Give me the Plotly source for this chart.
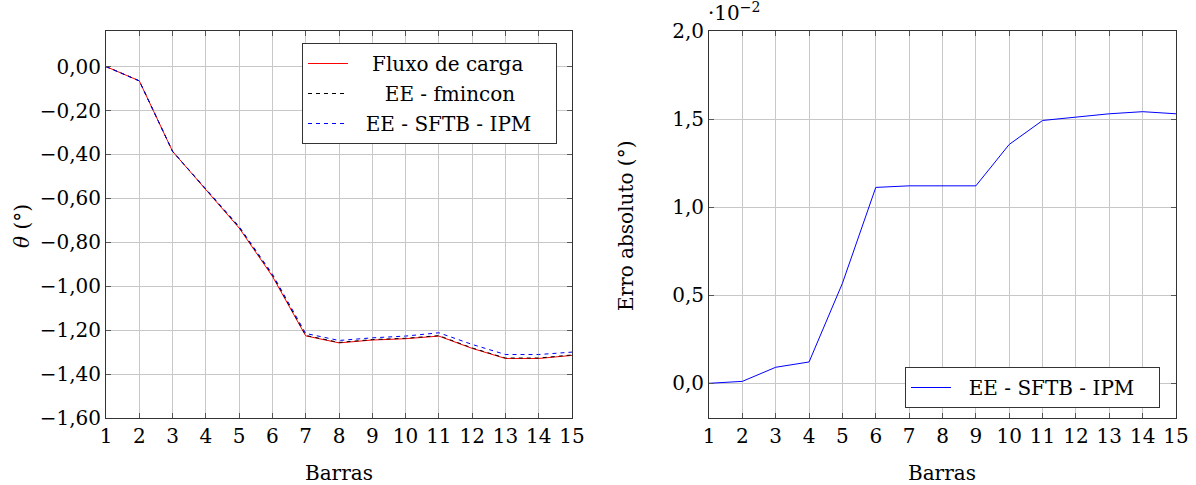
import plotly.graph_objects as go

barras = list(range(1, 16))
fluxo_carga = [0.0, -0.065, -0.386, -0.560, -0.735, -0.955, -1.226, -1.258, -1.245, -1.239, -1.227, -1.283, -1.329, -1.329, -1.315]
ee_fmincon = [0.0, -0.065, -0.386, -0.558, -0.732, -0.950, -1.224, -1.256, -1.243, -1.237, -1.225, -1.281, -1.327, -1.327, -1.313]
ee_sftb_ipm = [0.0, -0.065, -0.386, -0.555, -0.728, -0.945, -1.215, -1.247, -1.235, -1.227, -1.212, -1.265, -1.311, -1.311, -1.300]
erro_abs = [0.0, 0.011, 0.091, 0.121, 0.568, 1.112, 1.121, 1.121, 1.121, 1.356, 1.492, 1.511, 1.530, 1.542, 1.530]

left_ticks = [0.0, -0.2, -0.4, -0.6, -0.8, -1.0, -1.2, -1.4, -1.6]
left_ticktext = ["0,00", "−0,20", "−0,40", "−0,60", "−0,80", "−1,00", "−1,20", "−1,40", "−1,60"]
right_ticks = [0.0, 0.5, 1.0, 1.5, 2.0]
right_ticktext = ["0,0", "0,5", "1,0", "1,5", "2,0"]

FONT = "DejaVu Serif"
FS = 20
NB = "\u00a0"

fig = go.Figure()
fig.add_trace(go.Scatter(x=barras, y=fluxo_carga, mode="lines", name=NB * 3 + "Fluxo de carga",
                         line=dict(color="red", width=1), xaxis="x", yaxis="y", legend="legend",
                         legendgroup="a"))
fig.add_trace(go.Scatter(x=barras, y=ee_fmincon, mode="lines", name=NB * 5 + "EE - fmincon",
                         line=dict(color="black", width=1, dash="4px,4px"), xaxis="x", yaxis="y",
                         legend="legend", legendgroup="b"))
fig.add_trace(go.Scatter(x=barras, y=ee_sftb_ipm, mode="lines", name=NB * 2 + "EE - SFTB - IPM" + NB * 3,
                         line=dict(color="blue", width=1, dash="4px,4px"), xaxis="x", yaxis="y",
                         legend="legend", legendgroup="c"))
fig.add_trace(go.Scatter(x=barras, y=erro_abs, mode="lines", name=NB * 2 + "EE - SFTB - IPM" + NB * 3,
                         line=dict(color="blue", width=1), xaxis="x2", yaxis="y2", legend="legend2"))

W, H = 1196, 485
def fx(p): return p / W
def fy(p): return 1 - p / H

axis_common = dict(showline=True, linecolor="#333", linewidth=1, mirror="ticks", ticks="inside",
                   ticklen=5, tickcolor="#555", showgrid=True, gridcolor="#c8c8c8", gridwidth=1,
                   zeroline=False, automargin=False, tickfont=dict(family=FONT, size=FS, color="black"))

fig.update_layout(
    width=W, height=H, margin=dict(l=0, r=0, t=0, b=0, pad=0, autoexpand=False),
    plot_bgcolor="white", paper_bgcolor="white",
    font=dict(family=FONT, size=FS, color="black"),
    xaxis=dict(domain=[fx(106), fx(572)], range=[1, 15], tickvals=barras, anchor="y", **axis_common),
    yaxis=dict(domain=[fy(418), fy(31)], range=[-1.6, 0.162], tickvals=left_ticks, ticktext=left_ticktext,
               anchor="x", **axis_common),
    xaxis2=dict(domain=[fx(709), fx(1176)], range=[1, 15], tickvals=barras, anchor="y2", **axis_common),
    yaxis2=dict(domain=[fy(418), fy(31)], range=[-0.197, 2.0], tickvals=right_ticks, ticktext=right_ticktext,
                anchor="x2", **axis_common),
    legend=dict(x=fx(302), y=fy(43), xanchor="left", yanchor="top", bgcolor="white",
                bordercolor="#333", borderwidth=1, font=dict(family=FONT, size=FS),
                itemwidth=40, tracegroupgap=1),
    legend2=dict(x=fx(905), y=fy(367), xanchor="left", yanchor="top", bgcolor="white",
                 bordercolor="#333", borderwidth=1, font=dict(family=FONT, size=FS), itemwidth=40),
    annotations=[
        dict(text="Barras", x=fx(339), y=fy(473), xref="paper", yref="paper", showarrow=False,
             xanchor="center", yanchor="middle", font=dict(family=FONT, size=FS)),
        dict(text="Barras", x=fx(942), y=fy(473), xref="paper", yref="paper", showarrow=False,
             xanchor="center", yanchor="middle", font=dict(family=FONT, size=FS)),
        dict(text="<i>θ</i> (°)", x=fx(22), y=fy(226), xref="paper", yref="paper", showarrow=False,
             xanchor="center", yanchor="middle", textangle=-90, font=dict(family=FONT, size=FS)),
        dict(text="Erro absoluto (°)", x=fx(626), y=fy(226), xref="paper", yref="paper", showarrow=False,
             xanchor="center", yanchor="middle", textangle=-90, font=dict(family=FONT, size=FS)),
        dict(text="·10<sup>−2</sup>", x=fx(706), y=fy(27), xref="paper", yref="paper", showarrow=False,
             xanchor="left", yanchor="bottom", font=dict(family=FONT, size=FS)),
    ],
)

fig.write_html("out.html", config={"displayModeBar": False},
               post_script="document.body.style.margin='0';document.body.style.padding='0';")
